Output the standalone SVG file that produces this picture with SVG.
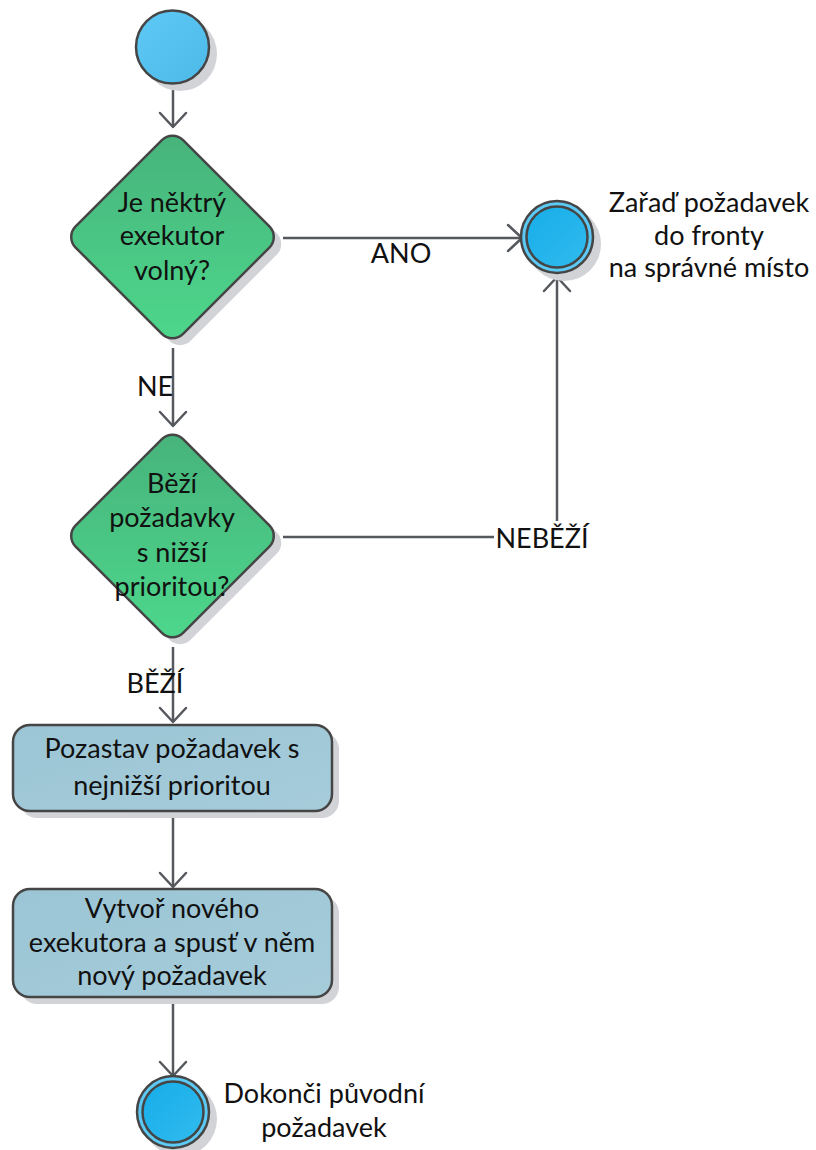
<svg xmlns="http://www.w3.org/2000/svg" width="816" height="1150" viewBox="0 0 816 1150">
  <defs>
    <linearGradient id="gDecision" x1="0" y1="0" x2="1" y2="1">
      <stop offset="0" stop-color="#47b27b"/>
      <stop offset="1" stop-color="#4dd88c"/>
    </linearGradient>
    <linearGradient id="gAction" x1="0" y1="0" x2="1" y2="1">
      <stop offset="0" stop-color="#9bc5d5"/>
      <stop offset="1" stop-color="#a6ccda"/>
    </linearGradient>
    <linearGradient id="gStart" x1="0" y1="0" x2="1" y2="1">
      <stop offset="0" stop-color="#5ec9f5"/>
      <stop offset="1" stop-color="#4db9e8"/>
    </linearGradient>
    <linearGradient id="gEnd" x1="0" y1="0" x2="1" y2="1">
      <stop offset="0" stop-color="#17ade9"/>
      <stop offset="1" stop-color="#30bbee"/>
    </linearGradient>
    <marker id="arrow" markerUnits="userSpaceOnUse" markerWidth="30" markerHeight="30" refX="15" refY="15" orient="auto" overflow="visible">
      <path d="M1 2 L15 15 L1 28" fill="none" stroke="#55585d" stroke-width="2.5" stroke-linecap="round" stroke-linejoin="round"/>
    </marker>
    <style>
      .shape { stroke: #454545; stroke-width: 2.5; }
      .shadow { fill: #d2d3d7; }
      .edge { fill: none; stroke: #55585d; stroke-width: 2.5; marker-end: url(#arrow); }
      text { font-family: Lato, "Noto Sans", "Liberation Sans", sans-serif; font-size: 27px; fill: #111; text-anchor: middle; }
      .lbl { fill: #ffffff; }
    </style>
  </defs>
  <rect width="816" height="1150" fill="#ffffff"/>

  <!-- connectors -->
  <g id="connectors">
    <path class="edge" d="M173 84 V127"/>
    <path class="edge" d="M283 238 H522"/>
    <path class="edge" d="M173 348 V426"/>
    <path class="edge" d="M283 537 H545 Q557 537 557 525 V277"/>
    <path class="edge" d="M173 647 V722"/>
    <path class="edge" d="M173 811 V887"/>
    <path class="edge" d="M173 997 V1076"/>
    <text x="401" y="263">ANO</text>
    <text x="155" y="396">NE</text>
    <rect class="lbl" x="494" y="521" width="97" height="33"/>
    <text x="542" y="548">NEBĚŽÍ</text>
    <text x="155" y="693">BĚŽÍ</text>
  </g>

  <!-- start node -->
  <g id="start">
    <circle class="shadow" cx="180" cy="54" r="37"/>
    <circle class="shape" cx="172.5" cy="47" r="36.5" fill="url(#gStart)"/>
  </g>

  <!-- decision: free executor -->
  <g id="decision-free">
    <rect class="shadow" x="-76" y="-76" width="152" height="152" rx="15" transform="translate(180 244) rotate(45)"/>
    <rect class="shape" x="-76" y="-76" width="152" height="152" rx="15" fill="url(#gDecision)" transform="translate(172.5 237) rotate(45)"/>
    <text x="172" y="212">Je něktrý</text>
    <text x="172" y="245">exekutor</text>
    <text x="172" y="280">volný?</text>
  </g>

  <!-- end: enqueue -->
  <g id="end-enqueue">
    <circle class="shadow" cx="564" cy="244" r="37"/>
    <circle class="shape" cx="557" cy="237" r="36" fill="#5ccaf5"/>
    <circle class="shape" cx="557" cy="237" r="30.5" fill="url(#gEnd)"/>
    <text x="709" y="212">Zařaď požadavek</text>
    <text x="709" y="245">do fronty</text>
    <text x="709" y="277">na správné místo</text>
  </g>

  <!-- decision: lower priority running -->
  <g id="decision-lower">
    <rect class="shadow" x="-76" y="-76" width="152" height="152" rx="15" transform="translate(180 543) rotate(45)"/>
    <rect class="shape" x="-76" y="-76" width="152" height="152" rx="15" fill="url(#gDecision)" transform="translate(172.5 536) rotate(45)"/>
    <text x="172" y="493">Běží</text>
    <text x="172" y="527">požadavky</text>
    <text x="172" y="562">s nižší</text>
    <text x="172" y="596">prioritou?</text>
  </g>

  <!-- action: suspend -->
  <g id="action-suspend">
    <rect class="shadow" x="20" y="732" width="319" height="86" rx="17"/>
    <rect class="shape" x="13" y="725" width="319" height="86" rx="17" fill="url(#gAction)"/>
    <text x="172" y="758">Pozastav požadavek s</text>
    <text x="172" y="795">nejnižší prioritou</text>
  </g>

  <!-- action: new executor -->
  <g id="action-create">
    <rect class="shadow" x="20" y="896" width="319" height="108" rx="17"/>
    <rect class="shape" x="13" y="889" width="319" height="108" rx="17" fill="url(#gAction)"/>
    <text x="172" y="918">Vytvoř nového</text>
    <text x="172" y="952">exekutora a spusť v něm</text>
    <text x="172" y="985">nový požadavek</text>
  </g>

  <!-- end: finish original -->
  <g id="end-finish">
    <circle class="shadow" cx="180" cy="1119" r="37"/>
    <circle class="shape" cx="173" cy="1112" r="36" fill="#5ccaf5"/>
    <circle class="shape" cx="173" cy="1112" r="30.5" fill="url(#gEnd)"/>
    <text x="324" y="1103">Dokonči původní</text>
    <text x="324" y="1137">požadavek</text>
  </g>
</svg>
